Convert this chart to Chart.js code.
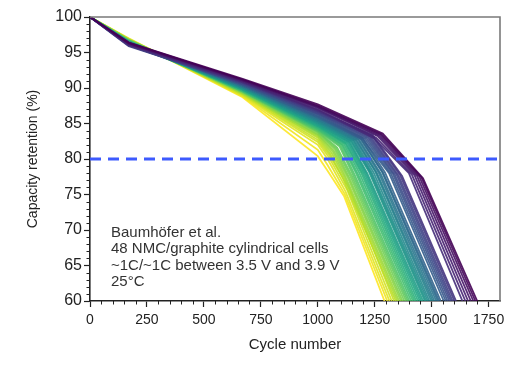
<!DOCTYPE html>
<html>
<head>
<meta charset="utf-8">
<script src="https://cdn.jsdelivr.net/npm/chart.js@4.4.0/dist/chart.umd.min.js"></script>
<style>
  html, body { margin: 0; padding: 0; background: #fff; }
</style>
</head>
<body>
<canvas id="chart" width="532" height="366"></canvas>
<script>
// 48 cells, index 0 = longest lived (dark purple) ... 47 = shortest (yellow)
const startRet = 100;
const eolRet = 60;
const checkpointCycles = [0, 170, 670, 1000];

const ret170 = [
  96.4, 96.3, 96.4, 96.2, 96.3, 96.1, 96.2,
  96.0, 96.1, 95.9, 96.0, 96.1, 96.2, 96.0, 96.1,
  96.3, 96.2, 96.4, 96.3, 96.2, 96.4, 96.3, 96.5, 96.3, 96.4, 96.2, 96.5, 96.4,
  96.5, 96.4, 96.6, 96.5, 96.6, 96.5, 96.7, 96.6,
  96.7, 96.6, 96.8, 96.7, 96.8, 96.7, 96.9,
  96.8, 96.9, 96.8, 97.0, 96.9
];
const ret670 = [
  91.3, 91.2, 91.1, 91.1, 91.0, 90.9, 90.9,
  90.8, 90.8, 90.7, 90.6, 90.6, 90.5, 90.5, 90.4,
  90.4, 90.4, 90.3, 90.3, 90.2, 90.2, 90.1, 90.1, 90.0, 90.0, 89.9, 89.9, 89.8,
  89.8, 89.8, 89.7, 89.7, 89.6, 89.6, 89.5, 89.5,
  89.5, 89.4, 89.4, 89.3, 89.3, 89.2, 89.2,
  89.1, 89.0, 88.9, 88.8, 88.7
];
const ret1000 = [
  87.7, 87.5, 87.4, 87.3, 87.2, 87.0, 86.9,
  86.8, 86.7, 86.6, 86.5, 86.4, 86.3, 86.2, 86.0,
  86.0, 85.9, 85.8, 85.7, 85.6, 85.5, 85.4, 85.3, 85.2, 85.1, 85.0, 84.9, 84.8,
  84.7, 84.6, 84.5, 84.4, 84.3, 84.2, 84.1, 84.0,
  83.9, 83.8, 83.7, 83.5, 83.4, 83.2, 83.0,
  82.7, 82.4, 82.0, 81.3, 80.4
];
const knee1Cycle = [
  1285, 1280, 1276, 1270, 1264, 1256, 1248,
  1240, 1236, 1230, 1225, 1220, 1214, 1208, 1200,
  1195, 1190, 1186, 1180, 1175, 1170, 1165, 1160, 1155, 1150, 1145, 1140, 1135,
  1130, 1125, 1120, 1115, 1110, 1105, 1100, 1095,
  1085, 1080, 1075, 1070, 1065, 1060, 1055,
  1050, 1048, 1045, 1042, 1040
];
const knee1Ret = [
  83.6, 83.5, 83.4, 83.3, 83.2, 83.0, 82.9,
  83.4, 83.3, 83.2, 83.1, 83.0, 82.9, 82.8, 82.7,
  83.0, 82.9, 82.9, 82.8, 82.8, 82.7, 82.7, 82.6, 82.6, 82.5, 82.5, 82.4, 82.4,
  82.3, 82.2, 82.2, 82.1, 82.0, 82.0, 81.9, 81.8,
  81.6, 81.5, 81.4, 81.2, 81.1, 80.9, 80.7,
  80.6, 80.3, 79.9, 79.2, 78.5
];
const knee2Cycle = [
  1462, 1455, 1446, 1436, 1425, 1413, 1400,
  1370, 1362, 1354, 1346, 1338, 1330, 1322, 1313,
  1295, 1288, 1282, 1275, 1267, 1260, 1253, 1245, 1238, 1231, 1225, 1217, 1210,
  1205, 1198, 1190, 1183, 1176, 1168, 1160, 1153,
  1150, 1143, 1136, 1130, 1123, 1117, 1110,
  1135, 1128, 1122, 1118, 1115
];
const knee2Ret = [
  77.3, 77.4, 77.5, 77.6, 77.7, 77.8, 78.0,
  77.6, 77.7, 77.7, 77.8, 77.8, 77.9, 77.9, 78.0,
  78.1, 78.0, 78.2, 78.0, 78.1, 78.0, 78.2, 78.1, 78.0, 78.1, 78.2, 78.0, 78.1,
  78.0, 78.0, 78.1, 78.0, 77.9, 78.0, 77.9, 77.9,
  77.6, 77.6, 77.5, 77.5, 77.4, 77.4, 77.3,
  76.0, 75.7, 75.4, 75.1, 74.8
];
// cycle at which each cell reaches 60 %
const eolCycle = [
  1700, 1692, 1683, 1672, 1660, 1648, 1635,
  1607, 1600, 1592, 1585, 1578, 1570, 1562, 1553,
  1540, 1533, 1527, 1520, 1512, 1505, 1498, 1490, 1483, 1476, 1470, 1462, 1455,
  1448, 1440, 1432, 1425, 1418, 1410, 1402, 1395,
  1388, 1380, 1372, 1365, 1357, 1350, 1343,
  1335, 1325, 1315, 1305, 1293
];

const thresholdRet = 80;
const xTicksMajor = [0, 250, 500, 750, 1000, 1250, 1500, 1750];
const yTicksMajor = [60, 65, 70, 75, 80, 85, 90, 95, 100];
const noteLines = [
  'Baumhöfer et al.',
  '48 NMC/graphite cylindrical cells',
  '~1C/~1C between 3.5 V and 3.9 V',
  '25°C'
];

// viridis
const VIRIDIS = ['#440154', '#482475', '#414487', '#355f8d', '#2a788e', '#21918c',
                 '#22a884', '#44bf70', '#7ad151', '#bddf26', '#fde725'];
function viridis(t) {
  const f = t * (VIRIDIS.length - 1);
  const i = Math.min(Math.floor(f), VIRIDIS.length - 2);
  const k = f - i;
  const a = VIRIDIS[i], b = VIRIDIS[i + 1];
  const ch = (s, o) => parseInt(s.substr(o, 2), 16);
  const mix = o => Math.round(ch(a, o) + (ch(b, o) - ch(a, o)) * k);
  return `rgba(${mix(1)},${mix(3)},${mix(5)},0.9)`;
}

const cellSets = eolCycle.map((_, i) => ({
  data: [
    { x: checkpointCycles[0], y: startRet },
    { x: checkpointCycles[1], y: ret170[i] },
    { x: checkpointCycles[2], y: ret670[i] },
    { x: checkpointCycles[3], y: ret1000[i] },
    { x: knee1Cycle[i], y: knee1Ret[i] },
    { x: knee2Cycle[i], y: knee2Ret[i] },
    { x: eolCycle[i], y: eolRet }
  ],
  borderColor: viridis(i / (eolCycle.length - 1)),
  borderWidth: 1.8,
  pointRadius: 0,
  tension: 0
}));

const thresholdSet = {
  data: [{ x: 0, y: thresholdRet }, { x: 1800, y: thresholdRet }],
  borderColor: '#3d5afe',
  borderWidth: 3,
  borderDash: [11, 7],
  pointRadius: 0
};

const FONT = "'Liberation Sans', Arial, sans-serif";

// 上・右の枠線、副目盛り、注記
const framePlugin = {
  id: 'frame',
  afterDraw(chart) {
    const { ctx, chartArea: a, scales: { x, y } } = chart;
    ctx.save();
    ctx.strokeStyle = '#7a7a7a';
    ctx.lineWidth = 1.6;
    ctx.beginPath();
    ctx.moveTo(a.left, a.top);
    ctx.lineTo(a.right, a.top);
    ctx.lineTo(a.right, a.bottom);
    ctx.stroke();

    ctx.strokeStyle = '#222';
    ctx.lineWidth = 1;
    ctx.beginPath();
    for (let v = 50; v < 1800; v += 50) {
      if (xTicksMajor.includes(v)) continue;
      const px = Math.round(x.getPixelForValue(v)) + 0.5;
      ctx.moveTo(px, a.bottom);
      ctx.lineTo(px, a.bottom + 3.5);
    }
    for (let v = 61; v < 100; v++) {
      if (yTicksMajor.includes(v)) continue;
      const py = Math.round(y.getPixelForValue(v)) + 0.5;
      ctx.moveTo(a.left, py);
      ctx.lineTo(a.left - 3.5, py);
    }
    ctx.stroke();

    ctx.fillStyle = '#333';
    ctx.font = '15px ' + FONT;
    ctx.textBaseline = 'middle';
    noteLines.forEach((t, i) => ctx.fillText(t, a.left + 21, a.top + 216 + i * 16.3));
    ctx.restore();
  }
};

new Chart(document.getElementById('chart'), {
  type: 'line',
  data: { datasets: [thresholdSet, ...cellSets] },
  options: {
    responsive: false,
    animation: false,
    layout: { padding: { top: 17, right: 32, left: 0, bottom: 0 } },
    plugins: { legend: { display: false }, tooltip: { enabled: false } },
    scales: {
      x: {
        type: 'linear',
        min: 0, max: 1800,
        afterFit: s => { s.height = 65; },
        afterBuildTicks: s => { s.ticks = xTicksMajor.map(v => ({ value: v })); },
        ticks: {
          padding: 5, autoSkip: false,
          color: '#222', font: { family: FONT, size: 14 }, maxRotation: 0,
          callback: v => String(v)
        },
        grid: { display: true, drawOnChartArea: false, tickLength: 6, tickColor: '#222', tickWidth: 1.2 },
        border: { display: true, color: '#222', width: 1.6 },
        title: { display: true, text: 'Cycle number', color: '#222', font: { family: FONT, size: 15 }, padding: { top: 0, bottom: 12 } }
      },
      y: {
        type: 'linear',
        min: 60, max: 100,
        afterFit: s => { s.width = 90; },
        afterBuildTicks: s => { s.ticks = yTicksMajor.map(v => ({ value: v })); },
        ticks: {
          padding: 2, autoSkip: false,
          color: '#222', font: { family: FONT, size: 16 },
          callback: v => String(v)
        },
        grid: { display: true, drawOnChartArea: false, tickLength: 6, tickColor: '#222', tickWidth: 1.2 },
        border: { display: true, color: '#222', width: 1.6 },
        title: { display: true, text: 'Capacity retention (%)', color: '#222', font: { family: FONT, size: 14 }, padding: { top: 25, bottom: 0 } }
      }
    }
  },
  plugins: [framePlugin]
});
</script>
</body>
</html>
